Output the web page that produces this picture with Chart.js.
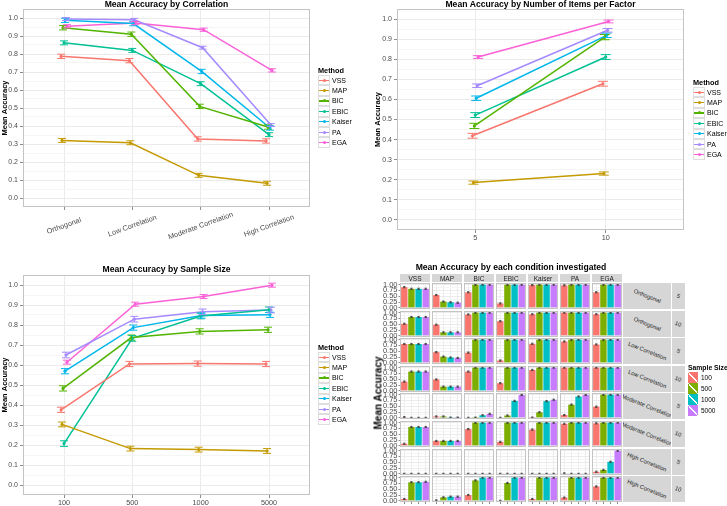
<!DOCTYPE html>
<html>
<head>
<meta charset="utf-8">
<script src="https://cdn.jsdelivr.net/npm/chart.js@4/dist/chart.umd.min.js"></script>
<style>
  html, body { margin: 0; padding: 0; background: #fff; }
  #page { position: relative; width: 727px; height: 506px; overflow: hidden; font-family: "Liberation Sans", Arial, sans-serif; }
  #page canvas { position: absolute; }
  .legend { position: absolute; color: #000; }
  .legend .lt { font-size: 7.3px; font-weight: bold; height: 9px; line-height: 9px; white-space: nowrap; }
  .legend .li { height: 10.4px; font-size: 7px; display: flex; align-items: center; white-space: nowrap; }
  .key { position: relative; width: 12px; height: 10.4px; box-sizing: border-box; border: 1px solid #dedede; margin-right: 2px; flex: none; }
  .key i { position: absolute; left: 0; right: 0; top: 3.6px; height: 1.3px; }
  .key b { position: absolute; left: 3.5px; top: 2.7px; width: 3px; height: 3px; border-radius: 50%; }
  .fkey { width: 10px; height: 11px; margin-right: 3px; flex: none; }
  .strip { position: absolute; background: #d6d6d6; color: #1a1a1a; font-size: 6.5px; display: flex; align-items: center; justify-content: center; overflow: hidden; white-space: nowrap; }
  .strip span { display: block; transform: rotate(22deg); font-size: 5.8px; }
  .label { position: absolute; white-space: nowrap; color: #000; font-weight: bold; }
</style>
</head>
<body>
<div id="page"></div>
<script>
const methods = ['VSS', 'MAP', 'BIC', 'EBIC', 'Kaiser', 'PA', 'EGA'];
const methodColors = ['#F8766D', '#C49A00', '#53B400', '#00C094', '#00B6EB', '#A58AFF', '#FB61D7'];
const accTicks = [0, 0.1, 0.2, 0.3, 0.4, 0.5, 0.6, 0.7, 0.8, 0.9, 1.0];

// panel 1: accuracy by correlation (one row per method)
const corrLabels = ['Orthogonal', 'Low Correlation', 'Moderate Correlation', 'High Correlation'];
const corrMeans = [
    [0.787, 0.763, 0.328, 0.317],
    [0.320, 0.307, 0.126, 0.082],
    [0.946, 0.910, 0.509, 0.394],
    [0.862, 0.820, 0.635, 0.352],
    [0.987, 0.969, 0.703, 0.389],
    [0.994, 0.990, 0.835, 0.405],
    [0.954, 0.972, 0.935, 0.709]
];
const corrErr = [0.012, 0.011, 0.012, 0.011, 0.012, 0.008, 0.009];

// panel 2: accuracy by number of items per factor
const itemLabels = ['5', '10'];
const itemMeans = [
    [0.419, 0.678],
    [0.186, 0.231],
    [0.468, 0.910],
    [0.522, 0.811],
    [0.606, 0.919],
    [0.668, 0.944],
    [0.811, 0.988]
];
const itemErr = [0.012, 0.008, 0.013, 0.012, 0.011, 0.009, 0.007];

// panel 3: accuracy by sample size
const sizeLabels = ['100', '500', '1000', '5000'];
const sizeMeans = [
    [0.376, 0.605, 0.607, 0.605],
    [0.303, 0.182, 0.177, 0.170],
    [0.483, 0.737, 0.768, 0.776],
    [0.207, 0.733, 0.845, 0.876],
    [0.569, 0.787, 0.847, 0.851],
    [0.650, 0.829, 0.866, 0.875],
    [0.614, 0.904, 0.942, 0.999]
];
const sizeErr = [0.013, 0.012, 0.013, 0.014, 0.013, 0.014, 0.01];

// panel 4: each condition, one row of 4 bars (sample sizes) per method
const sizeColors = ['#F8766D', '#7CAE00', '#00BFC4', '#C77CFF'];
const facetTicks = [0, 0.25, 0.5, 0.75, 1.0];
const conditionNames = ['Orthogonal', 'Orthogonal', 'Low Correlation', 'Low Correlation',
    'Moderate Correlation', 'Moderate Correlation', 'High Correlation', 'High Correlation'];
const itemNames = ['5', '10', '5', '10', '5', '10', '5', '10'];
const orth5 = [[0.89, 0.82, 0.82, 0.82], [0.55, 0.27, 0.24, 0.22], [0.67, 1, 1, 1], [0.19, 1, 1, 1], [0.98, 1, 1, 1], [0.97, 1, 1, 1], [0.67, 1, 1, 1]];
const orth10 = [[0.52, 0.81, 0.81, 0.81], [0.48, 0.15, 0.15, 0.15], [0.92, 1, 1, 1], [0.63, 1, 1, 1], [0.93, 1, 1, 1], [1, 1, 1, 1], [0.93, 1, 1, 1]];
const low5 = [[0.81, 0.81, 0.81, 0.81], [0.46, 0.27, 0.23, 0.21], [0.44, 1, 1, 1], [0.10, 1, 1, 1], [0.82, 1, 1, 1], [0.92, 1, 1, 1], [0.79, 1, 1, 1]];
const low10 = [[0.40, 0.83, 0.83, 0.83], [0.49, 0.18, 0.18, 0.18], [0.83, 1, 1, 1], [0.33, 1, 1, 1], [0.90, 1, 1, 1], [1, 1, 1, 1], [1, 1, 1, 1]];
const mod5 = [[0.03, 0, 0, 0], [0.06, 0.06, 0.01, 0.01], [0, 0.01, 0.11, 0.17], [0, 0.10, 0.73, 0.98], [0.01, 0.24, 0.72, 0.78], [0.12, 0.57, 0.92, 0.99], [0.48, 1, 1, 1]];
const mod10 = [[0.09, 0.81, 0.81, 0.81], [0.21, 0.21, 0.21, 0.21], [0.72, 1, 1, 1], [0.17, 1, 1, 1], [0.70, 1, 1, 1], [0.95, 1, 1, 1], [0.97, 1, 1, 1]];
const high5 = [[0, 0, 0, 0], [0, 0, 0, 0], [0, 0, 0, 0], [0, 0, 0, 0], [0, 0, 0, 0], [0.02, 0, 0, 0], [0.09, 0.17, 0.52, 1]];
const high10 = [[0.08, 0.80, 0.80, 0.82], [0.02, 0.15, 0.18, 0.18], [0.25, 0.88, 1, 1], [0, 0.77, 1, 1], [0.08, 1, 1, 1], [0.14, 1, 1, 1], [0.62, 1, 1, 1]];
const facetRows = [orth5, orth10, low5, low10, mod5, mod10, high5, high10];
const facetErr = 0.025;

Chart.defaults.font.family = '"Liberation Sans", Arial, sans-serif';
Chart.defaults.animation = false;
Chart.defaults.events = [];

const page = document.getElementById('page');

function addCanvas(left, top, w, h) {
    const c = document.createElement('canvas');
    c.width = w;
    c.height = h;
    c.style.left = left + 'px';
    c.style.top = top + 'px';
    c.style.width = w + 'px';
    c.style.height = h + 'px';
    page.appendChild(c);
    return c;
}

function addDiv(cls, css, html) {
    const d = document.createElement('div');
    d.className = cls;
    d.style.cssText = css;
    d.innerHTML = html;
    page.appendChild(d);
    return d;
}

// vertical error bars with caps, placed with the y scale
const errorBars = {
    id: 'errorBars',
    afterDatasetsDraw(chart) {
        const ctx = chart.ctx;
        const y = chart.scales.y;
        chart.data.datasets.forEach((ds, di) => {
            if (ds.err === undefined) return;
            const meta = chart.getDatasetMeta(di);
            ctx.save();
            ctx.strokeStyle = ds.errColor || ds.borderColor;
            ctx.lineWidth = ds.errWidth || 1;
            meta.data.forEach((el, i) => {
                const d = ds.data[i];
                const v = typeof d === 'object' ? d.y : d;
                const e = Array.isArray(ds.err) ? ds.err[i] : ds.err;
                const top = y.getPixelForValue(v + e);
                const bot = y.getPixelForValue(v - e);
                const w = ds.capHalf || 3;
                ctx.beginPath();
                ctx.moveTo(el.x, top); ctx.lineTo(el.x, bot);
                ctx.moveTo(el.x - w, top); ctx.lineTo(el.x + w, top);
                ctx.moveTo(el.x - w, bot); ctx.lineTo(el.x + w, bot);
                ctx.stroke();
            });
            ctx.restore();
        });
    }
};

// grey frame round the plotting area
const panelBorder = {
    id: 'panelBorder',
    afterDraw(chart, args, opts) {
        const {ctx, chartArea: a} = chart;
        ctx.save();
        ctx.strokeStyle = opts.color || '#c4c4c4';
        ctx.lineWidth = 1;
        ctx.strokeRect(Math.round(a.left) + 0.5, Math.round(a.top) + 0.5,
            Math.round(a.right - a.left) - 1, Math.round(a.bottom - a.top) - 1);
        ctx.restore();
    }
};

// centred, slanted category labels under the x axis
const slantedLabels = {
    id: 'slantedLabels',
    afterDraw(chart, args, opts) {
        if (!opts.labels) return;
        const {ctx, scales: {x}} = chart;
        ctx.save();
        ctx.font = opts.font;
        ctx.fillStyle = opts.color;
        ctx.textAlign = 'center';
        ctx.textBaseline = 'middle';
        opts.labels.forEach((t, i) => {
            ctx.save();
            ctx.translate(x.getPixelForValue(i), chart.chartArea.bottom + opts.offset);
            ctx.rotate(-opts.angle * Math.PI / 180);
            ctx.fillText(t, 0, 0);
            ctx.restore();
        });
        ctx.restore();
    }
};

// y tick labels for the facet panels, written without shrinking the panel
const sideTicks = {
    id: 'sideTicks',
    afterDraw(chart, args, opts) {
        if (!opts.values) return;
        const {ctx, scales: {y}} = chart;
        ctx.save();
        ctx.font = opts.font;
        ctx.fillStyle = opts.color;
        ctx.textAlign = 'right';
        ctx.textBaseline = 'middle';
        opts.values.forEach(v => {
            ctx.fillText(v.toFixed(2), chart.chartArea.left - opts.gap, y.getPixelForValue(v));
        });
        ctx.restore();
    }
};

Chart.register(errorBars, panelBorder);

// major ticks plus a minor grid line half way between them
function withMinor(ticks) {
    const out = [];
    ticks.forEach((t, i) => {
        out.push(t);
        if (i < ticks.length - 1) out.push((t + ticks[i + 1]) / 2);
    });
    return out;
}
const accGrid = withMinor(accTicks);
const facetGrid = withMinor(facetTicks);

function methodLegend(left, top) {
    let html = '<div class="lt">Method</div>';
    methods.forEach((m, i) => {
        html += `<div class="li"><span class="key"><i style="background:${methodColors[i]}"></i><b style="background:${methodColors[i]}"></b></span>${m}</div>`;
    });
    addDiv('legend', `left:${left}px;top:${top}px;`, html);
}

function lineChart(cfg) {
    const canvas = addCanvas(cfg.left, cfg.top, cfg.w, cfg.h);
    const n = cfg.labels.length;
    const datasets = methods.map((m, i) => ({
        label: m,
        data: cfg.means[i].map((v, j) => ({x: j + (i - 3) * cfg.dodge / 7, y: v})),
        err: cfg.err[i],
        capHalf: cfg.cap,
        borderColor: methodColors[i],
        backgroundColor: methodColors[i],
        borderWidth: 1.5,
        pointRadius: 1.6,
        pointBorderWidth: 0,
        tension: 0
    }));
    return new Chart(canvas, {
        type: 'line',
        data: {datasets},
        options: {
            responsive: false,
            layout: {padding: {right: cfg.padRight}},
            plugins: {
                legend: {display: false},
                tooltip: {enabled: false},
                title: {
                    display: true,
                    text: cfg.title,
                    fullSize: false,
                    color: '#000',
                    font: {size: 8.6, weight: 'bold', lineHeight: 1},
                    padding: cfg.titlePad
                },
                slantedLabels: cfg.slant ? {
                    labels: cfg.labels, font: '7.3px "Liberation Sans", Arial, sans-serif',
                    color: '#4d4d4d', offset: 19, angle: 20
                } : {}
            },
            scales: {
                x: {
                    type: 'linear',
                    min: -0.6,
                    max: n - 0.4,
                    afterBuildTicks: ax => { ax.ticks = cfg.labels.map((l, j) => ({value: j})); },
                    afterFit: s => { s.height = cfg.xH; },
                    grid: {color: '#ebebeb', tickLength: 3, tickColor: '#8c8c8c'},
                    border: {display: false},
                    ticks: {
                        display: !cfg.slant, autoSkip: false, maxRotation: 0, padding: 1,
                        font: {size: 7.3}, color: '#4d4d4d',
                        callback: (v, j) => cfg.labels[j]
                    }
                },
                y: {
                    min: -0.05,
                    max: 1.05,
                    afterBuildTicks: ax => { ax.ticks = accGrid.map(v => ({value: v})); },
                    afterFit: s => { s.width = cfg.yW; },
                    grid: {
                        color: c => c.index % 2 ? '#f5f5f5' : '#ebebeb',
                        tickColor: c => c.index % 2 ? 'rgba(0,0,0,0)' : '#8c8c8c',
                        tickLength: 3
                    },
                    border: {display: false},
                    title: {
                        display: true, text: 'Mean Accuracy', color: '#000',
                        font: {size: 7.5, weight: 'bold', lineHeight: 1},
                        padding: {top: cfg.yTitlePad, bottom: 0}
                    },
                    ticks: {
                        autoSkip: false, padding: 2, font: {size: 7}, color: '#4d4d4d',
                        callback: (v, j) => j % 2 ? '' : accTicks[j / 2].toFixed(1)
                    }
                }
            }
        },
        plugins: cfg.slant ? [slantedLabels] : []
    });
}

lineChart({
    left: 0, top: 0, w: 363, h: 250,
    title: 'Mean Accuracy by Correlation', titlePad: {top: 0, bottom: 0.4},
    labels: corrLabels, means: corrMeans, err: corrErr, dodge: 0.1, cap: 4,
    slant: true, xH: 43, yW: 23, padRight: 53, yTitlePad: 0.8
});
methodLegend(318, 66);

lineChart({
    left: 363, top: 0, w: 364, h: 250,
    title: 'Mean Accuracy by Number of Items per Factor', titlePad: {top: 0, bottom: 0.4},
    labels: itemLabels, means: itemMeans, err: itemErr, dodge: 0.05, cap: 5,
    slant: false, xH: 20, yW: 34, padRight: 43, yTitlePad: 11
});
methodLegend(693, 78);

lineChart({
    left: 0, top: 250, w: 363, h: 256,
    title: 'Mean Accuracy by Sample Size', titlePad: {top: 15, bottom: 1.4},
    labels: sizeLabels, means: sizeMeans, err: sizeErr, dodge: 0.1, cap: 4,
    slant: false, xH: 11, yW: 23, padRight: 53, yTitlePad: 0.8
});
methodLegend(318, 343);

// panel 4: grid of small bar charts
const facetX0 = 400, facetColPitch = 32, facetColW = 30;
const facetY0 = 283, facetRowPitch = 27.6, facetRowH = 26;

function facetChart(vals, r, c) {
    const isLeft = c === 0;
    const isBottom = r === facetRows.length - 1;
    const extraL = isLeft ? 19 : 0;
    const extraT = isLeft ? 4 : 0;
    const extraB = (isBottom ? 4 : 0) + (isLeft ? 4 : 0);
    const left = facetX0 + c * facetColPitch;
    const top = Math.round(facetY0 + r * facetRowPitch);
    const canvas = addCanvas(left - extraL, top - extraT, facetColW + extraL, facetRowH + extraT + extraB);
    new Chart(canvas, {
        type: 'bar',
        data: {
            datasets: [{
                data: vals.map((v, j) => ({x: j, y: v})),
                backgroundColor: sizeColors,
                err: facetErr, errColor: '#333', errWidth: 0.8, capHalf: 1.2,
                barPercentage: 0.9, categoryPercentage: 1
            }]
        },
        options: {
            responsive: false,
            layout: {padding: {top: extraT, bottom: isLeft ? 4 : 0}},
            plugins: {
                legend: {display: false},
                tooltip: {enabled: false},
                panelBorder: {color: '#c4c4c4'},
                sideTicks: isLeft ? {
                    values: facetTicks, gap: 2.5, color: '#4d4d4d',
                    font: '7.5px "Liberation Sans", Arial, sans-serif'
                } : {}
            },
            scales: {
                x: {
                    type: 'linear', offset: false, min: -0.6, max: 3.6,
                    afterBuildTicks: ax => { ax.ticks = sizeLabels.map((l, j) => ({value: j})); },
                    afterFit: s => { s.height = isBottom ? 4 : 0; },
                    ticks: {display: false},
                    grid: {offset: false, color: '#ebebeb', drawTicks: isBottom, tickLength: 2, tickColor: '#8c8c8c'},
                    border: {display: false}
                },
                y: {
                    min: -0.05, max: 1.07,
                    afterBuildTicks: ax => { ax.ticks = facetGrid.map(v => ({value: v})); },
                    afterFit: s => { s.width = extraL; },
                    ticks: {display: false},
                    grid: {
                        color: g => g.index % 2 ? '#f5f5f5' : '#ebebeb',
                        tickColor: g => g.index % 2 ? 'rgba(0,0,0,0)' : '#8c8c8c',
                        drawTicks: isLeft, tickLength: 1.5
                    },
                    border: {display: false}
                }
            }
        },
        plugins: isLeft ? [sideTicks] : []
    });
}

facetRows.forEach((rowData, r) => {
    rowData.forEach((vals, c) => facetChart(vals, r, c));
    const top = Math.round(facetY0 + r * facetRowPitch);
    addDiv('strip', `left:623px;top:${top}px;width:48px;height:${facetRowH}px;`, `<span>${conditionNames[r]}</span>`);
    addDiv('strip', `left:672px;top:${top}px;width:13px;height:${facetRowH}px;`, `<span>${itemNames[r]}</span>`);
});
methods.forEach((m, c) => {
    addDiv('strip', `left:${facetX0 + c * facetColPitch}px;top:274px;width:${facetColW}px;height:8px;`, m);
});

addDiv('label', 'left:511px;top:267px;font-size:8.6px;transform:translate(-50%,-50%);', 'Mean Accuracy by each condition investigated');
addDiv('label', 'left:378px;top:393px;font-size:10px;transform:translate(-50%,-50%) rotate(-90deg);', 'Mean Accuracy');

let fl = '<div class="lt" style="font-size:6.8px">Sample Size</div>';
sizeLabels.forEach((s, i) => {
    const col = sizeColors[i];
    fl += `<div class="li" style="height:11px;font-size:6.5px"><span class="fkey" style="background:linear-gradient(to top right, ${col} calc(50% - 0.6px), #fff calc(50% - 0.6px), #fff calc(50% + 0.6px), ${col} calc(50% + 0.6px))"></span>${s}</div>`;
});
addDiv('legend', 'left:688px;top:363px;', fl);
</script>
</body>
</html>
